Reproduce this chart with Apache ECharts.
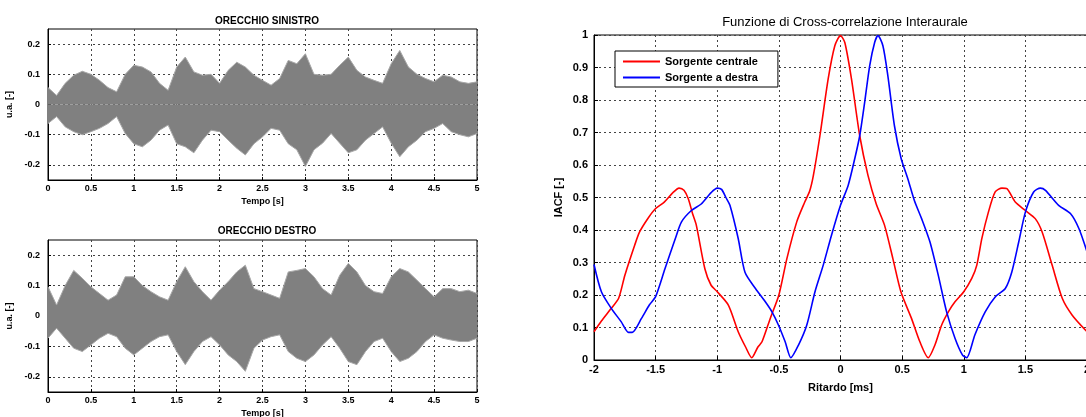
<!DOCTYPE html>
<html>
<head>
<meta charset="utf-8">
<script src="https://cdn.jsdelivr.net/npm/echarts@6/dist/echarts.min.js"></script>
<style>
  html, body { margin: 0; padding: 0; background: #fff; }
  #chart { width: 1086px; height: 417px; }
</style>
</head>
<body>
<div id="chart"></div>
<script>
const timeS = [0, 0.1, 0.2, 0.3, 0.4, 0.5, 0.6, 0.7, 0.8, 0.9,
  1, 1.1, 1.2, 1.3, 1.4, 1.5, 1.6, 1.7, 1.8, 1.9,
  2, 2.1, 2.2, 2.3, 2.4, 2.5, 2.6, 2.7, 2.8, 2.9,
  3, 3.1, 3.2, 3.3, 3.4, 3.5, 3.6, 3.7, 3.8, 3.9,
  4, 4.1, 4.2, 4.3, 4.4, 4.5, 4.6, 4.7, 4.8, 4.9, 5];

// orecchio sinistro: inviluppo superiore / inferiore
const sxUpper = [0.056, 0.03, 0.07, 0.097, 0.11, 0.10, 0.08, 0.056, 0.042, 0.10,
  0.13, 0.124, 0.108, 0.07, 0.047, 0.124, 0.157, 0.108, 0.097, 0.10,
  0.07, 0.113, 0.14, 0.124, 0.097, 0.08, 0.064, 0.086, 0.146, 0.135,
  0.168, 0.10, 0.097, 0.10, 0.13, 0.157, 0.113, 0.091, 0.08, 0.07,
  0.135, 0.179, 0.124, 0.10, 0.086, 0.075, 0.097, 0.091, 0.075, 0.07, 0.075];
const sxLower = [-0.063, -0.04, -0.074, -0.09, -0.10, -0.09, -0.079, -0.063, -0.04, -0.096,
  -0.13, -0.14, -0.118, -0.085, -0.068, -0.13, -0.14, -0.16, -0.118, -0.085,
  -0.09, -0.118, -0.145, -0.167, -0.13, -0.107, -0.079, -0.085, -0.13, -0.15,
  -0.205, -0.15, -0.128, -0.096, -0.128, -0.16, -0.15, -0.118, -0.096, -0.074,
  -0.128, -0.173, -0.14, -0.118, -0.09, -0.079, -0.063, -0.09, -0.10, -0.107, -0.096];

// orecchio destro
const dxUpper = [0.096, 0.036, 0.10, 0.15, 0.124, 0.096, 0.074, 0.052, 0.069, 0.129,
  0.129, 0.10, 0.08, 0.063, 0.052, 0.113, 0.162, 0.113, 0.08, 0.052,
  0.085, 0.113, 0.145, 0.167, 0.09, 0.08, 0.069, 0.058, 0.145, 0.15,
  0.156, 0.129, 0.09, 0.069, 0.134, 0.173, 0.145, 0.10, 0.08, 0.074,
  0.129, 0.156, 0.145, 0.118, 0.09, 0.063, 0.09, 0.09, 0.08, 0.085, 0.074];
const dxLower = [-0.073, -0.04, -0.073, -0.106, -0.117, -0.095, -0.073, -0.057, -0.068, -0.106,
  -0.128, -0.106, -0.084, -0.068, -0.062, -0.117, -0.16, -0.117, -0.084, -0.068,
  -0.095, -0.128, -0.15, -0.182, -0.106, -0.079, -0.068, -0.062, -0.117, -0.139,
  -0.15, -0.128, -0.095, -0.068, -0.106, -0.15, -0.16, -0.117, -0.084, -0.073,
  -0.117, -0.15, -0.139, -0.117, -0.084, -0.062, -0.073, -0.079, -0.084, -0.084, -0.073];

// IACF: [ritardo ms, valore]
const iacfCentrale = [[-2, 0.087], [-1.94, 0.12], [-1.86, 0.159], [-1.8, 0.19], [-1.75, 0.26],
  [-1.67, 0.353], [-1.63, 0.394], [-1.56, 0.437], [-1.5, 0.466], [-1.43, 0.486], [-1.36, 0.515],
  [-1.31, 0.529], [-1.27, 0.522], [-1.235, 0.496], [-1.2, 0.45], [-1.17, 0.415], [-1.1, 0.28],
  [-1.05, 0.23], [-1.0, 0.21], [-0.91, 0.169], [-0.83, 0.087], [-0.77, 0.04], [-0.72, 0.007],
  [-0.67, 0.04], [-0.637, 0.056], [-0.57, 0.128], [-0.5, 0.2], [-0.435, 0.312], [-0.355, 0.425],
  [-0.29, 0.486], [-0.25, 0.52], [-0.22, 0.568], [-0.167, 0.69], [-0.1, 0.865], [-0.046, 0.967],
  [0, 0.998], [0.035, 0.977], [0.089, 0.865], [0.156, 0.69], [0.223, 0.568], [0.29, 0.48],
  [0.357, 0.415], [0.425, 0.312], [0.49, 0.21], [0.576, 0.128], [0.644, 0.056], [0.712, 0.007],
  [0.766, 0.046], [0.82, 0.107], [0.875, 0.148], [0.929, 0.179], [1.0, 0.21], [1.065, 0.251],
  [1.106, 0.292], [1.147, 0.374], [1.2, 0.455], [1.255, 0.517], [1.31, 0.529], [1.35, 0.527],
  [1.418, 0.486], [1.5, 0.46], [1.58, 0.435], [1.636, 0.394], [1.717, 0.292], [1.8, 0.189],
  [1.88, 0.138], [2.0, 0.087]];
const iacfDestra = [[-2, 0.294], [-1.94, 0.21], [-1.86, 0.159], [-1.78, 0.118], [-1.72, 0.085],
  [-1.69, 0.085], [-1.615, 0.128], [-1.55, 0.17], [-1.5, 0.195], [-1.425, 0.28], [-1.34, 0.374],
  [-1.29, 0.425], [-1.21, 0.46], [-1.13, 0.48], [-1.05, 0.515], [-1.0, 0.529], [-0.965, 0.525],
  [-0.93, 0.5], [-0.897, 0.476], [-0.83, 0.374], [-0.775, 0.27], [-0.69, 0.22], [-0.61, 0.179],
  [-0.556, 0.148], [-0.503, 0.107], [-0.449, 0.056], [-0.403, 0.007], [-0.341, 0.046],
  [-0.274, 0.107], [-0.207, 0.21], [-0.14, 0.292], [-0.073, 0.384], [0, 0.476], [0.062, 0.537],
  [0.116, 0.62], [0.156, 0.69], [0.196, 0.793], [0.237, 0.906], [0.277, 0.977], [0.304, 0.998],
  [0.344, 0.967], [0.384, 0.875], [0.438, 0.72], [0.492, 0.62], [0.546, 0.558], [0.6, 0.49],
  [0.658, 0.435], [0.726, 0.363], [0.793, 0.261], [0.861, 0.148], [0.929, 0.067], [0.99, 0.015],
  [1.024, 0.007], [1.09, 0.077], [1.174, 0.148], [1.255, 0.194], [1.337, 0.22], [1.39, 0.271],
  [1.446, 0.363], [1.5, 0.455], [1.567, 0.517], [1.622, 0.529], [1.663, 0.522], [1.77, 0.476],
  [1.867, 0.45], [1.935, 0.404], [2.0, 0.333]];

const waveTicks = [-0.2, -0.1, 0, 0.1, 0.2];

const FONT = 'Liberation Sans, Arial, sans-serif';
const gridLine = { show: true, lineStyle: { color: '#444', type: [2, 3], width: 1 } };

// asse del tempo (pannelli di sinistra)
const timeAxis = (gridIndex) => ({
  type: 'value', gridIndex, min: 0, max: 5, interval: 0.5,
  name: 'Tempo [s]', nameLocation: 'middle', nameGap: 17,
  nameTextStyle: { fontFamily: FONT, fontWeight: 'bold', fontSize: 9, color: '#000' },
  axisLine: { show: true, onZero: false, lineStyle: { color: '#000' } },
  axisTick: { show: true, inside: true, length: 3, lineStyle: { color: '#000' } },
  axisLabel: { fontFamily: FONT, fontWeight: 'bold', fontSize: 9, color: '#000', margin: 4 },
  splitLine: gridLine,
});
const waveAxis = (gridIndex) => ({
  type: 'value', gridIndex, min: -0.25, max: 0.25,
  name: 'u.a. [-]', nameLocation: 'middle', nameGap: 34, nameRotate: 90,
  nameTextStyle: { fontFamily: FONT, fontWeight: 'bold', fontSize: 9, color: '#000' },
  axisLine: { show: true, onZero: false, lineStyle: { color: '#000' } },
  axisTick: { show: true, inside: true, length: 3, customValues: waveTicks, lineStyle: { color: '#000' } },
  axisLabel: { fontFamily: FONT, fontWeight: 'bold', fontSize: 9, color: '#000', margin: 8, customValues: waveTicks },
  splitLine: gridLine,
});

const band = (name, xi, data) => ({
  name, type: 'line', xAxisIndex: xi, yAxisIndex: xi,
  data: timeS.map((t, i) => [t, data[i]]),
  symbol: 'none', silent: true,
  lineStyle: { color: '#a8a8a8', width: 1 },
  areaStyle: { color: '#808080', opacity: 1, origin: 'auto' },
});

const chart = echarts.init(document.getElementById('chart'), null, { renderer: 'canvas' });
chart.setOption({
  animation: false,
  backgroundColor: '#fff',
  title: [
    { text: 'ORECCHIO SINISTRO', left: 262, top: 11, textAlign: 'center',
      textStyle: { fontFamily: FONT, fontWeight: 'bold', fontSize: 10, color: '#000' } },
    { text: 'ORECCHIO DESTRO', left: 262, top: 221, textAlign: 'center',
      textStyle: { fontFamily: FONT, fontWeight: 'bold', fontSize: 10, color: '#000' } },
    { text: 'Funzione di Cross-correlazione Interaurale', left: 840, top: 11, textAlign: 'center',
      textStyle: { fontFamily: FONT, fontWeight: 'normal', fontSize: 13, color: '#000' } },
  ],
  legend: {
    left: 615, top: 51, orient: 'vertical',
    data: ['Sorgente centrale', 'Sorgente a destra'],
    icon: 'rect',
    backgroundColor: '#fff', borderColor: '#000', borderWidth: 1, borderRadius: 0,
    padding: [4, 20, 3, 8], itemWidth: 37, itemHeight: 2, itemGap: 3,
    textStyle: { fontFamily: FONT, fontWeight: 'bold', fontSize: 11, color: '#000', lineHeight: 13 },
  },
  grid: [
    { left: 48, top: 29, width: 429, height: 151, show: true, borderColor: '#000', borderWidth: 1, outerBoundsMode: 'none' },
    { left: 48, top: 240, width: 429, height: 152, show: true, borderColor: '#000', borderWidth: 1, outerBoundsMode: 'none' },
    { left: 594, top: 35, width: 493, height: 325, show: true, borderColor: '#000', borderWidth: 1, outerBoundsMode: 'none' },
  ],
  xAxis: [
    timeAxis(0),
    timeAxis(1),
    {
      type: 'value', gridIndex: 2, min: -2, max: 2, interval: 0.5,
      name: 'Ritardo [ms]', nameLocation: 'middle', nameGap: 22,
      nameTextStyle: { fontFamily: FONT, fontWeight: 'bold', fontSize: 11, color: '#000' },
      axisLine: { show: true, onZero: false, lineStyle: { color: '#000' } },
      axisTick: { show: true, inside: true, length: 4, lineStyle: { color: '#000' } },
      axisLabel: { fontFamily: FONT, fontWeight: 'bold', fontSize: 11, color: '#000', margin: 4 },
      splitLine: gridLine,
    },
  ],
  yAxis: [
    waveAxis(0),
    waveAxis(1),
    {
      type: 'value', gridIndex: 2, min: 0, max: 1, interval: 0.1,
      name: 'IACF [-]', nameLocation: 'middle', nameGap: 30, nameRotate: 90,
      nameTextStyle: { fontFamily: FONT, fontWeight: 'bold', fontSize: 11, color: '#000' },
      axisLine: { show: true, onZero: false, lineStyle: { color: '#000' } },
      axisTick: { show: true, inside: true, length: 4, lineStyle: { color: '#000' } },
      axisLabel: { fontFamily: FONT, fontWeight: 'bold', fontSize: 11, color: '#000', margin: 6 },
      splitLine: gridLine,
    },
  ],
  series: [
    band('sx+', 0, sxUpper),
    band('sx-', 0, sxLower),
    band('dx+', 1, dxUpper),
    band('dx-', 1, dxLower),
    {
      name: 'Sorgente centrale', type: 'line', xAxisIndex: 2, yAxisIndex: 2,
      data: iacfCentrale, symbol: 'none', smooth: 0.25,
      color: '#ff0000', lineStyle: { color: '#ff0000', width: 1.6 },
    },
    {
      name: 'Sorgente a destra', type: 'line', xAxisIndex: 2, yAxisIndex: 2,
      data: iacfDestra, symbol: 'none', smooth: 0.25,
      color: '#0000ff', lineStyle: { color: '#0000ff', width: 1.6 },
    },
  ],
});
</script>
</body>
</html>
